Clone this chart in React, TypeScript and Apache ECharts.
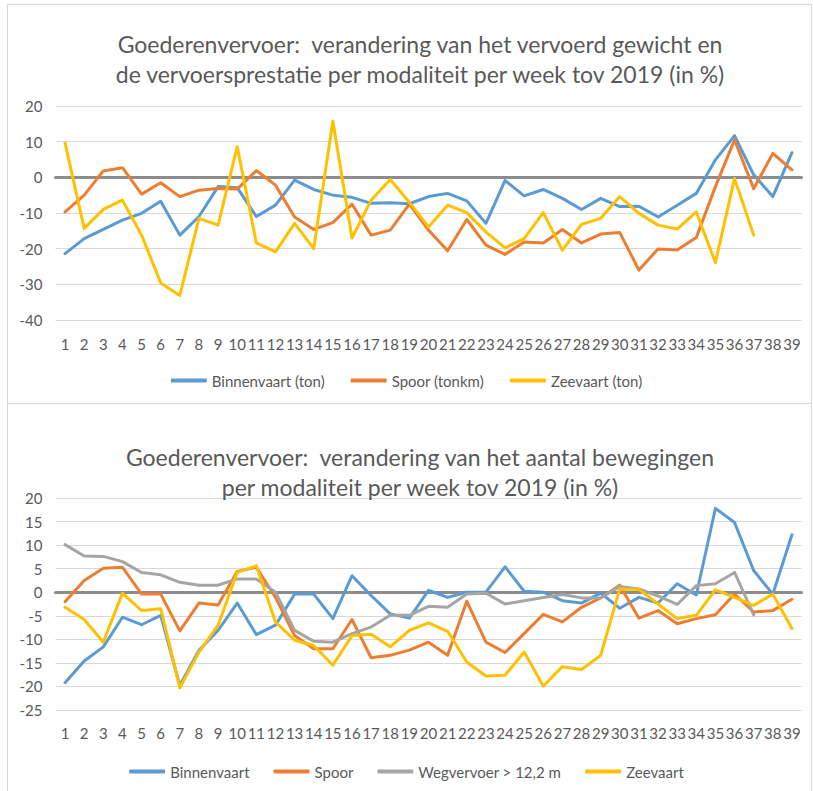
import React, { useEffect, useRef } from "react";
import * as echarts from "echarts";

const weeks = Array.from({ length: 39 }, (_, i) => String(i + 1));

// Chart 1: weight / transport performance
const binnenvaartTon = [-21.4, -17.2, -14.6, -12, -10.1, -6.7, -16.2, -11, -2.6, -2.9, -11, -7.8, -0.8, -3.4, -5, -5.6, -7.3, -7.1, -7.4, -5.4, -4.5, -6.6, -12.9, -0.9, -5.2, -3.4, -5.9, -9.0, -5.9, -8.2, -8.1, -11.1, -7.8, -4.5, 4.9, 11.7, 0.7, -5.4, 6.9];
const spoorTonkm = [-9.7, -5, 1.8, 2.7, -4.7, -1.5, -5.4, -3.6, -3.1, -3.3, 1.9, -2.2, -11.1, -14.6, -12.7, -7.5, -16.2, -14.8, -7.5, -14.8, -20.6, -11.8, -19, -21.6, -18.1, -18.4, -14.6, -18.4, -15.9, -15.5, -26, -20.1, -20.4, -16.9, -2.6, 10.5, -3.2, 6.7, 2.1];
const zeevaartTon = [9.6, -14.3, -9, -6.4, -16.2, -29.6, -33.1, -11.5, -13.4, 8.6, -18.4, -20.9, -12.9, -20, 15.8, -17, -6.4, -0.6, -7, -13.9, -7.8, -9.9, -15.3, -19.8, -17.2, -9.9, -20.4, -13.2, -11.5, -5.4, -10.1, -13.4, -14.5, -9.7, -23.9, -0.3, -16.2, null, null];

// Chart 2: number of movements
const binnenvaart = [-19.2, -14.6, -11.6, -5.3, -6.9, -4.9, -19.8, -12.3, -8.1, -2.3, -9, -7, -0.4, -0.4, -5.6, 3.5, -0.7, -4.6, -5.5, 0.4, -1.1, 0, 0, 5.4, 0.2, 0, -1.8, -2.3, -0.2, -3.4, -1.1, -2.3, 1.8, -0.6, 17.8, 14.8, 4.6, -0.4, 12.2];
const spoor = [-2, 2.5, 5.1, 5.3, -0.4, -0.4, -8.2, -2.3, -2.7, 4.4, 5.3, -1.1, -9.2, -12, -12, -5.8, -13.9, -13.4, -12.3, -10.6, -13.4, -1.9, -10.6, -12.8, -8.8, -4.7, -6.3, -3.2, -1.2, 1.5, -5.5, -3.9, -6.7, -5.6, -4.8, -0.4, -4.2, -3.9, -1.5];
const wegvervoer = [10.1, 7.7, 7.6, 6.5, 4.2, 3.7, 2.1, 1.5, 1.5, 2.8, 2.8, 0, -8.1, -10.4, -10.6, -8.8, -7.4, -4.9, -4.9, -3, -3.2, -0.4, -0.2, -2.5, -1.8, -1.1, -0.5, -1.2, -1.2, 1.2, 0.7, -0.8, -2.6, 1.4, 1.8, 4.2, -4.8, null, null];
const zeevaart = [-3.2, -5.8, -10.6, -0.2, -3.9, -3.5, -20.3, -12.7, -7, 4.2, 5.6, -6.3, -10.2, -11.3, -15.5, -9.2, -8.9, -11.6, -8.1, -6.5, -8.3, -14.8, -17.8, -17.6, -12.7, -19.9, -15.8, -16.4, -13.4, 0.7, 0.6, -2.5, -5.6, -4.9, 0.5, -1.1, -2.8, -0.4, -7.7];

const title1 = "Goederenvervoer:  verandering van het vervoerd gewicht en\nde vervoersprestatie per modaliteit per week tov 2019 (in %)";
const title2 = "Goederenvervoer:  verandering van het aantal bewegingen\nper modaliteit per week tov 2019 (in %)";

const BLUE = "#5B9BD5";
const ORANGE = "#ED7D31";
const GRAY = "#A5A5A5";
const YELLOW = "#FFC000";
const TEXT = "#595959";
const FONT = "Lato, 'Open Sans', sans-serif";

export default function App() {
  const ref = useRef<HTMLDivElement>(null);
  useEffect(() => {
    if (!ref.current) return;
    const chart = echarts.init(ref.current, null, { renderer: "svg" });
    const xAxisBase = (gridIndex: number, margin: number) => ({
      type: "category",
      gridIndex,
      data: weeks,
      boundaryGap: true,
      axisTick: { show: false },
      axisLine: { show: true, onZero: true, lineStyle: { color: "#8C8C8C", width: 3 } },
      axisLabel: { interval: 0, color: TEXT, fontSize: 15, margin, fontFamily: FONT },
      splitLine: { show: false },
    });
    const line = (name: string, data: (number | null)[], color: string, idx: number) => ({
      name,
      type: "line",
      xAxisIndex: idx,
      yAxisIndex: idx,
      data,
      symbol: "none",
      connectNulls: false,
      lineStyle: { color, width: 3, join: "round", cap: "round" },
      itemStyle: { color },
      z: 3,
    });
    chart.setOption({
      animation: false,
      backgroundColor: "#ffffff",
      textStyle: { fontFamily: FONT },
      graphic: [
        { type: "rect", shape: { x: 7.5, y: 4.5, width: 804, height: 399 }, style: { fill: "none", stroke: "#D9D9D9", lineWidth: 1 }, silent: true },
        { type: "rect", shape: { x: 7.5, y: 403.5, width: 804, height: 390 }, style: { fill: "none", stroke: "#D9D9D9", lineWidth: 1 }, silent: true },
      ],
      title: [
        { text: title1, left: 415, top: 24, textAlign: "center", textStyle: { color: TEXT, fontSize: 23, fontWeight: "normal", lineHeight: 30, fontFamily: FONT } },
        { text: title2, left: 415, top: 437, textAlign: "center", textStyle: { color: TEXT, fontSize: 23, fontWeight: "normal", lineHeight: 30, fontFamily: FONT } },
      ],
      legend: [
        {
          data: ["Binnenvaart (ton)", "Spoor (tonkm)", "Zeevaart (ton)"],
          top: 368, left: "center",
          icon: "roundRect", itemWidth: 36, itemHeight: 4, itemGap: 26,
          textStyle: { color: TEXT, fontSize: 15, fontFamily: FONT },
        },
        {
          data: ["Binnenvaart", "Spoor", "Wegvervoer > 12,2 m", "Zeevaart"],
          top: 759, left: "center",
          icon: "roundRect", itemWidth: 36, itemHeight: 4, itemGap: 24,
          textStyle: { color: TEXT, fontSize: 15, fontFamily: FONT },
        },
      ],
      grid: [
        { left: 55.5, right: 11.5, top: 106, height: 214 },
        { left: 55.5, right: 11.5, top: 498, height: 212 },
      ],
      xAxis: [xAxisBase(0, 16), xAxisBase(1, 15)],
      yAxis: [
        {
          type: "value", gridIndex: 0, min: -40, max: 20, interval: 10,
          axisLine: { show: false }, axisTick: { show: false },
          axisLabel: { color: TEXT, fontSize: 15, margin: 13, fontFamily: FONT },
          splitLine: { lineStyle: { color: "#D9D9D9", width: 1 } },
        },
        {
          type: "value", gridIndex: 1, min: -25, max: 20, interval: 5,
          axisLine: { show: false }, axisTick: { show: false },
          axisLabel: { color: TEXT, fontSize: 15, margin: 13, fontFamily: FONT },
          splitLine: { lineStyle: { color: "#D9D9D9", width: 1 } },
        },
      ],
      series: [
        line("Binnenvaart (ton)", binnenvaartTon, BLUE, 0),
        line("Spoor (tonkm)", spoorTonkm, ORANGE, 0),
        line("Zeevaart (ton)", zeevaartTon, YELLOW, 0),
        line("Binnenvaart", binnenvaart, BLUE, 1),
        line("Spoor", spoor, ORANGE, 1),
        line("Wegvervoer > 12,2 m", wegvervoer, GRAY, 1),
        line("Zeevaart", zeevaart, YELLOW, 1),
      ],
    });
    return () => chart.dispose();
  }, []);
  return (
    <div style={{ position: "fixed", left: 0, top: 0, width: 813, height: 791, background: "#fff" }}>
      <div ref={ref} style={{ width: 813, height: 791 }} />
    </div>
  );
}
